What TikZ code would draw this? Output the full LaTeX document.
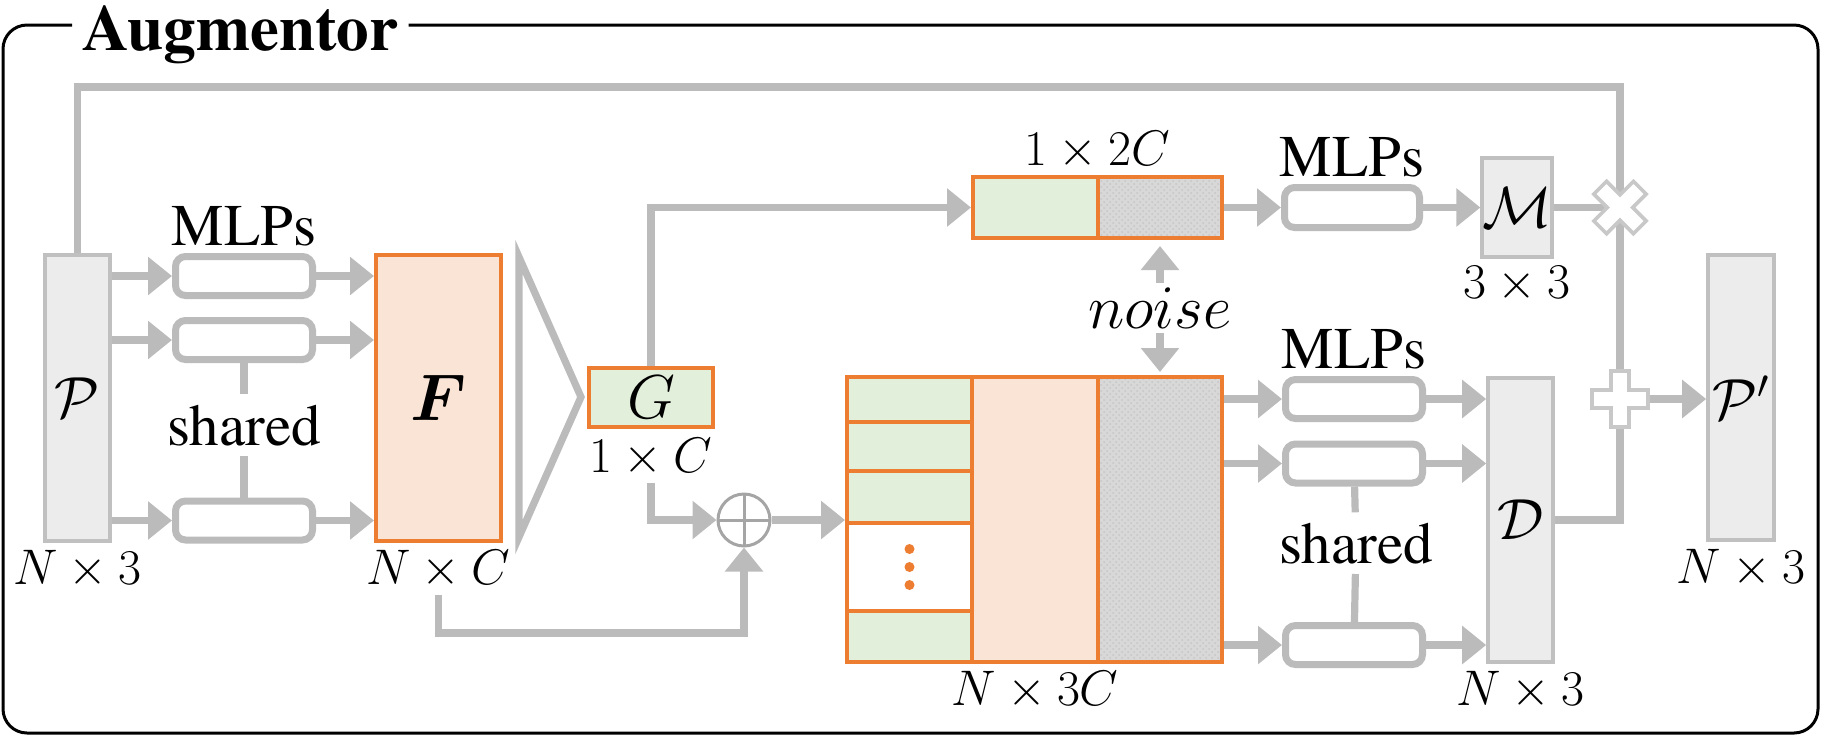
\RequirePackage{fix-cm}
\documentclass[tikz,border=0pt]{standalone}
\usepackage{bm}
\usepackage{fontspec}
\newfontfamily\timesfont{texgyretermes}[Extension=.otf, UprightFont=*-regular, BoldFont=*-bold]
\usetikzlibrary{arrows.meta,patterns}
\definecolor{mygray}{RGB}{187,187,187}
\definecolor{mylightgray}{RGB}{236,236,236}
\definecolor{myboxgray}{RGB}{192,192,192}
\definecolor{mysigngray}{RGB}{200,200,200}
\definecolor{myopgray}{RGB}{165,165,165}
\definecolor{myorange}{RGB}{237,125,49}
\definecolor{mypeach}{RGB}{250,228,214}
\definecolor{mygreen}{RGB}{226,239,218}
\definecolor{mynoise}{RGB}{216,216,216}
\newcommand{\sizetitle}{\fontsize{32.5}{35}\selectfont}
\newcommand{\sizetext}{\fontsize{29.5}{32}\selectfont}
\newcommand{\sizedim}{\fontsize{25}{28}\selectfont}
\newcommand{\sizesym}{\fontsize{29}{31}\selectfont}
\newcommand{\sizebig}{\fontsize{33}{36}\selectfont}
\newcommand{\widthcell}{62.5pt}
\newcommand{\heightcol}{142.5pt}
\tikzset{
    common/.style={draw, rectangle, inner sep=0pt},
    vec/.style={common, draw=myboxgray, fill=mylightgray, line width=1.8pt, minimum width=32.5pt},
    feat/.style={common, draw=myorange, line width=2pt},
    glob/.style={feat, fill=mygreen},
    local/.style={feat, fill=mypeach},
    noisy/.style={feat, preaction={fill=mynoise}, pattern=crosshatch dots, pattern color=gray!45},
    mlp/.style={draw=mygray, line width=3.5pt, rounded corners=5pt, minimum width=68.5pt, minimum height=19.5pt, inner sep=0pt},
    gline/.style={draw=mygray, line width=3.6pt},
    arr/.style={gline, -{Triangle[length=12pt, width=18.5pt]}},
    dim/.style={font=\sizedim},
    word/.style={font=\timesfont\sizetext},
    oplus/.style={draw=myopgray, circle, line width=1.5pt, minimum size=26pt, inner sep=0pt,
        path picture={
            \draw[myopgray, line width=1.5pt]
                (path picture bounding box.north) -- (path picture bounding box.south)
                (path picture bounding box.west) -- (path picture bounding box.east);
        }
    },
    frame/.style={draw=black, line width=1.5pt, rounded corners=12pt},
    pics/opsign/.style={
        code={
            \draw[draw=mysigngray, fill=white, line width=1.8pt, rotate=#1]
                (-9,-28) -- (9,-28) -- (9,-9) -- (28,-9) -- (28,9) -- (9,9) -- (9,28)
                -- (-9,28) -- (-9,9) -- (-28,9) -- (-28,-9) -- (-9,-9) -- cycle;
        }
    }
}

\begin{document}
\begin{tikzpicture}[x=0.5pt, y=-0.5pt]
    \useasboundingbox (0,0) rectangle (1822,736);

    \node[font=\timesfont\sizetitle\bfseries, anchor=base west, inner sep=5pt] (title) at (72,50) {Augmentor};
    \coordinate (ftl) at (3,25);
    \coordinate (fbr) at (1818,733);
    \draw[frame] (ftl -| title.west) -- (ftl) -- (ftl |- fbr) -- (fbr) -- (fbr |- ftl) -- (ftl -| title.east);

    \node[vec, minimum height=143pt, font=\sizesym, label={[dim]below:$N\times 3$}] (P) at (77.5,398) {$\mathcal{P}$};
    \node[mlp, label={[word]above:MLPs}] (mlpA1) at (244,276) {};
    \node[mlp] (mlpA2) at (244,340) {};
    \node[mlp] (mlpA3) at (244,520.5) {};
    \node[word, inner sep=5pt, anchor=base] (shA) at (244,445) {shared};
    \node[local, minimum width=\widthcell, minimum height=143pt, font=\sizebig,
        label={[dim, name=Flab]below:$N\times C$}] (F) at (438.5,398) {$\bm{F}$};
    \draw[gline] (519,257) -- (581,397) -- (519,537) -- cycle;
    \node[glob, minimum width=62pt, minimum height=29.5pt, font=\fontsize{31}{33}\selectfont,
        label={[dim, name=Glab, label distance=1pt]below:$1\times C$}] (G) at (651,397.5) {$G$};
    \node[oplus] (oplus) at (744,520) {};
    \coordinate (fbend) at (744,633);

    \node[glob, minimum width=\widthcell, minimum height=22.5pt] (g1) at (909.5,399.5) {};
    \node[glob, minimum width=\widthcell, minimum height=24.5pt] (g2) at (909.5,446.5) {};
    \node[glob, minimum width=\widthcell, minimum height=26pt] (g3) at (909.5,497) {};
    \node[feat, fill=white, minimum width=\widthcell, minimum height=44pt] (gdots) at (909.5,567) {};
    \node[glob, minimum width=\widthcell, minimum height=25.5pt] (g4) at (909.5,636.5) {};
    \node[local, minimum width=63pt, minimum height=\heightcol, label={[dim]below:$N\times 3C$}] (bigF) at (1035,519.5) {};
    \node[noisy, minimum width=62pt, minimum height=\heightcol] (bign) at (1160,519.5) {};
    \foreach \dy in {-18,0,18}
        \fill[myorange] (gdots) ++(0,\dy) circle[radius=5];

    \node[glob, minimum width=\widthcell, minimum height=30.5pt] (cat2g) at (1035.5,207.5) {};
    \node[noisy, minimum width=62pt, minimum height=30.5pt] (cat2n) at (1160,207.5) {};
    \node[dim, anchor=base] (cat2lab) at (1097.5,165) {$1\times 2C$};
    \node[font=\fontsize{31}{33}\selectfont, inner sep=2pt] (noise) at (1160,308) {$noise$};

    \node[mlp, minimum width=67.5pt, minimum height=20pt, label={[word]above:MLPs}] (mlpB) at (1352,207.5) {};
    \node[vec, minimum width=33pt, minimum height=49.5pt, font=\sizesym, label={[dim]below:$3\times 3$}] (M) at (1517,207.5) {$\mathcal{M}$};
    \coordinate (topright) at (1620,87);
    \coordinate (mul) at (1620,207.5);
    \coordinate (add) at (1620,399);

    \node[mlp, label={[word]above:MLPs}] (mlpC1) at (1354,399) {};
    \node[mlp] (mlpC2) at (1354,463.5) {};
    \node[mlp] (mlpC3) at (1354,645) {};
    \node[word, inner sep=5pt, anchor=base] (shB) at (1356,563) {shared};
    \node[vec, minimum height=142pt, font=\sizesym, label={[dim]below:$N\times 3$}] (D) at (1520.5,520) {$\mathcal{D}$};
    \node[vec, minimum width=33pt, minimum height=\heightcol, font=\sizesym, label={[dim]below:$N\times 3$}] (Pp) at (1741,397.5) {$\mathcal{P}'$};

    \draw[gline] (P.north) |- (topright) -- (mul) -- (add);
    \foreach \n in {1,2,3} {
        \draw[arr] (mlpA\n -| P.east) -- (mlpA\n);
        \draw[arr] (mlpA\n) -- (mlpA\n -| F.west);
        \draw[arr] (mlpC\n -| bign.east) -- (mlpC\n);
        \draw[arr] (mlpC\n) -- (mlpC\n -| D.west);
    }
    \draw[gline] (mlpA2) -- (shA);
    \draw[gline] (shA) -- (mlpA3);
    \draw[gline] (mlpC2) -- (shB);
    \draw[gline] (shB) -- (mlpC3);
    \draw[arr] (G) |- (cat2g);
    \draw[arr] (Glab) |- (oplus);
    \draw[arr] (Flab) |- (fbend) -- (oplus);
    \draw[arr] (oplus) -- (oplus -| g3.west);
    \draw[arr, shorten >=3pt] (noise) -- (cat2n);
    \draw[arr, shorten >=1.5pt] (noise) -- (bign);
    \draw[arr] (cat2n) -- (mlpB);
    \draw[arr] (mlpB) -- (M);
    \draw[gline] (M) -- (mul);
    \draw[gline] (D) -| (add);
    \draw[arr] (add) -- (add -| Pp.west);
    \pic at (mul) {opsign=45};
    \pic at (add) {opsign=0};
\end{tikzpicture}
\end{document}
